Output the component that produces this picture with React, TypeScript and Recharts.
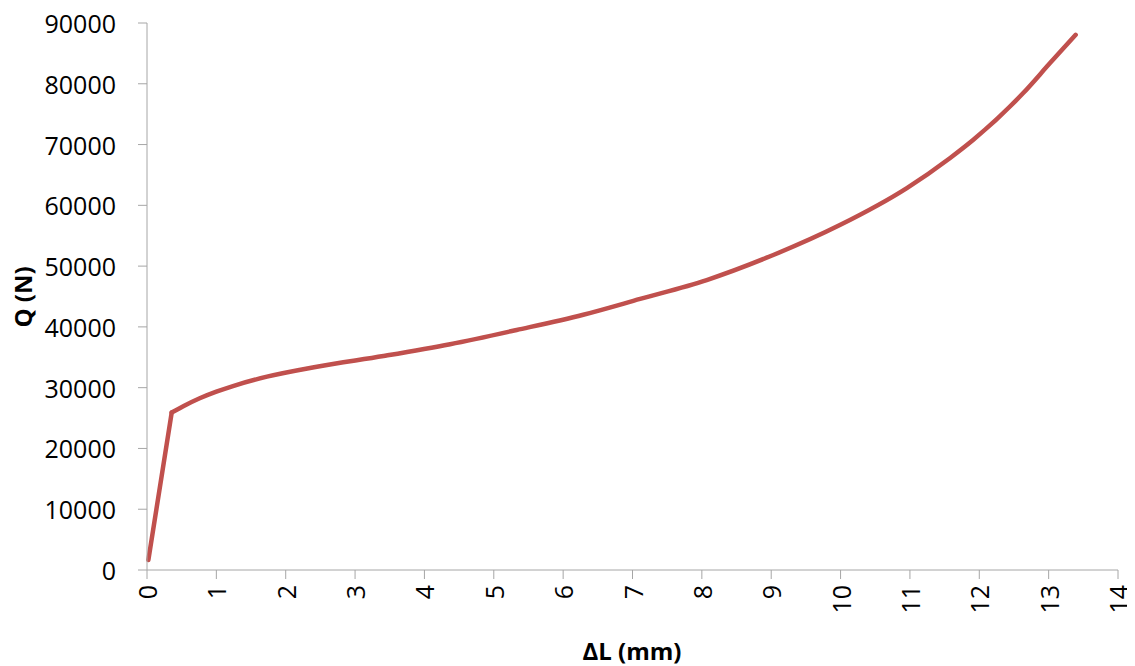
import React from 'react';
import { LineChart, Line, XAxis, YAxis, Label } from 'recharts';

const deltaL = [0.02, 0.356, 0.53, 0.76, 1.0, 1.24, 1.73, 2.45, 3.41, 4.37, 5.33, 6.29, 7.11, 8.07, 9.03, 9.99, 10.95, 11.58, 11.91, 12.63, 13.02, 13.39];
const load = [1650, 25900, 26980, 28250, 29340, 30270, 31810, 33450, 35210, 37150, 39490, 42000, 44600, 47710, 51830, 56760, 62800, 67800, 70750, 78430, 83400, 88050];
// index of the yield kink: straight elastic part before it, smooth curve after
const KINK = 1;

const xTicks = [0, 1, 2, 3, 4, 5, 6, 7, 8, 9, 10, 11, 12, 13, 14];
const yTicks = [0, 10000, 20000, 30000, 40000, 50000, 60000, 70000, 80000, 90000];

const data = deltaL.map((x, i) => ({
  x,
  elastic: i <= KINK ? load[i] : undefined,
  plastic: i >= KINK ? load[i] : undefined,
}));

const FONT = '"Open Sans", "Noto Sans", sans-serif';
const AXIS = '#a6a6a6';
const RED = '#c0504d';

const XTick = (props: any) => {
  const { x, y, payload } = props;
  return (
    <text
      transform={`translate(${x},${y + 4}) rotate(-90)`}
      textAnchor="end"
      dominantBaseline="central"
      fontFamily={FONT}
      fontSize={25}
      fill="#000"
    >
      {payload.value}
    </text>
  );
};

const YTick = (props: any) => {
  const { x, y, payload } = props;
  return (
    <text x={x - 20} y={y} textAnchor="end" dominantBaseline="central" fontFamily={FONT} fontSize={25} fill="#000">
      {payload.value}
    </text>
  );
};

// axis titles sit at fixed spots below / left of the plot
const XTitle = () => (
  <text
    x={632}
    y={650}
    textAnchor="middle"
    dominantBaseline="central"
    fontFamily={FONT}
    fontSize={24}
    fontWeight={700}
    fill="#000"
  >
    ΔL (mm)
  </text>
);

const YTitle = () => (
  <text
    transform="translate(22,297) rotate(-90)"
    textAnchor="middle"
    dominantBaseline="central"
    fontFamily={FONT}
    fontSize={24}
    fontWeight={700}
    fill="#000"
  >
    Q (N)
  </text>
);

export default function App() {
  return (
    <div style={{ margin: '-8px 0 0 -8px', width: 1135, height: 666, background: '#fff' }}>
      <LineChart width={1135} height={666} data={data} margin={{ top: 23, right: 17, left: 0, bottom: 0 }}>
        <XAxis
          type="number"
          dataKey="x"
          domain={[0, 14]}
          ticks={xTicks}
          interval={0}
          stroke={AXIS}
          tickSize={9}
          tick={<XTick />}
          height={96}
        >
          <Label content={<XTitle />} />
        </XAxis>
        <YAxis
          type="number"
          domain={[0, 90000]}
          ticks={yTicks}
          interval={0}
          stroke={AXIS}
          tickSize={9}
          tick={<YTick />}
          width={147}
        >
          <Label content={<YTitle />} />
        </YAxis>
        <Line
          type="linear"
          dataKey="elastic"
          stroke={RED}
          strokeWidth={4.5}
          strokeLinecap="round"
          strokeLinejoin="round"
          dot={false}
          isAnimationActive={false}
        />
        <Line
          type="monotone"
          dataKey="plastic"
          stroke={RED}
          strokeWidth={4.5}
          strokeLinecap="round"
          strokeLinejoin="round"
          dot={false}
          isAnimationActive={false}
        />
      </LineChart>
    </div>
  );
}
